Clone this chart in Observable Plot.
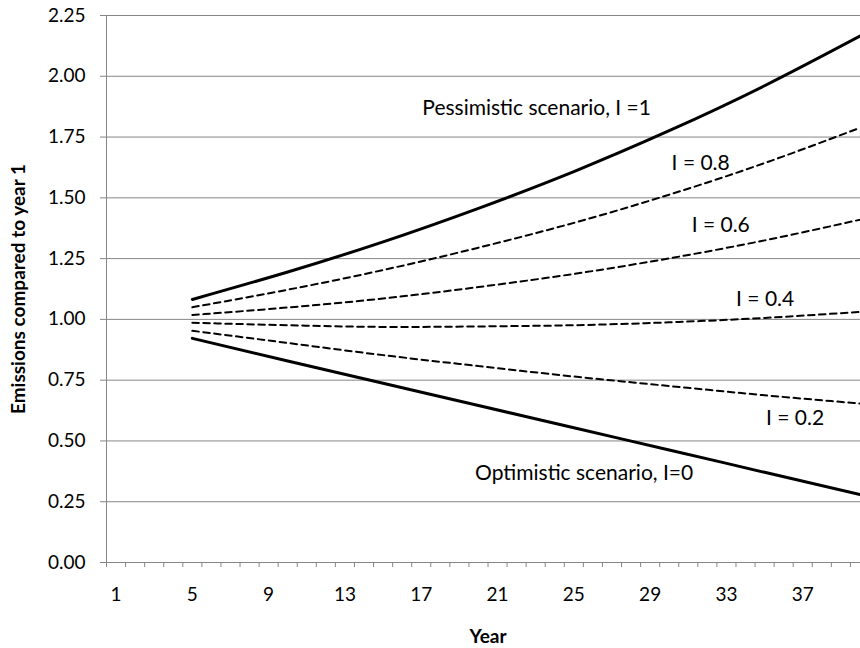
<!DOCTYPE html>
<html><head><meta charset="utf-8">
<script src="https://cdn.jsdelivr.net/npm/d3@7"></script>
<script src="https://cdn.jsdelivr.net/npm/@observablehq/plot@0.6"></script>
<style>
body{margin:0;background:#fff;}
#chart{width:860px;height:648px;overflow:hidden;}
#chart svg{overflow:hidden;}
</style>
</head><body><div id="chart"></div>
<script>
// ---- data ----
const years = [5, 10, 15, 20, 25, 30, 35, 40];
const pessimistic = [1.082, 1.195, 1.319, 1.457, 1.608, 1.776, 1.961, 2.165];
const i08 = [1.050, 1.122, 1.203, 1.295, 1.397, 1.513, 1.643, 1.788];
const i06 = [1.018, 1.049, 1.086, 1.133, 1.187, 1.251, 1.325, 1.410];
const i04 = [0.986, 0.976, 0.969, 0.971, 0.976, 0.988, 1.006, 1.031];
const i02 = [0.953, 0.903, 0.853, 0.808, 0.765, 0.726, 0.688, 0.654];
const optimistic = [0.922, 0.829, 0.737, 0.646, 0.554, 0.463, 0.371, 0.280];

const seriesNames = ["I=1", "I=0.8", "I=0.6", "I=0.4", "I=0.2", "I=0"];
const seriesValues = [pessimistic, i08, i06, i04, i02, optimistic];

const labelTexts = ["Pessimistic scenario, I =1", "I = 0.8", "I = 0.6", "I = 0.4", "I = 0.2", "Optimistic scenario, I=0"];
const labelYears = [23.05, 31.65, 32.7, 35.03, 36.6, 25.54];
const labelValues = [1.87, 1.641, 1.387, 1.083, 0.593, 0.366];

const yTicks = [0, 0.25, 0.5, 0.75, 1, 1.25, 1.5, 1.75, 2, 2.25];
const xLabelTicks = [1, 5, 9, 13, 17, 21, 25, 29, 33, 37];
const categoryCount = 40;

// ---- build tables ----
const rows = [];
seriesNames.forEach((name, si) => {
  years.forEach((yr, i) => rows.push({series: name, year: yr, value: seriesValues[si][i]}));
});
const solidNames = ["I=1", "I=0"];
const solid = rows.filter(d => solidNames.includes(d.series));
const dashed = rows.filter(d => !solidNames.includes(d.series));
const labels = labelTexts.map((t, i) => ({text: t, year: labelYears[i], value: labelValues[i]}));
const bandEdges = d3.range(0.5, categoryCount + 1, 1);

const GRAY = "#868686";
const FONT = "Lato, 'Open Sans', sans-serif";

const chart = Plot.plot({
  width: 860,
  height: 648,
  marginLeft: 106,
  marginTop: 15,
  marginBottom: 86,
  marginRight: 0,
  style: {fontFamily: FONT, fontSize: "19px", color: "#000", background: "#fff"},
  x: {domain: [0.5, categoryCount + 0.5], range: [106, 869]},
  y: {domain: [0, 2.25]},
  marks: [
    // gridlines
    Plot.ruleY(yTicks.slice(1), {x1: 0.5, x2: categoryCount + 0.5, stroke: GRAY, strokeWidth: 1}),
    // axis lines
    Plot.ruleX([0.5], {y1: 0, y2: 2.25, stroke: GRAY}),
    Plot.ruleY([0], {x1: 0.5, x2: categoryCount + 0.5, stroke: GRAY}),
    // y axis
    Plot.axisY({ticks: yTicks, tickFormat: d3.format(".2f"), tickSize: 6, tickPadding: 15, stroke: GRAY, label: null, fontSize: 19}),
    // x axis tick marks at category edges
    Plot.axisX({ticks: bandEdges, tickFormat: () => "", tickSize: 5, stroke: GRAY, label: null}),
    // x labels
    Plot.axisX({ticks: xLabelTicks, tickFormat: d => String(d), tickSize: 0, tickPadding: 25, label: null, fontSize: 19}),
    // lines
    Plot.line(dashed, {x: "year", y: "value", z: "series", stroke: "#000", strokeWidth: 2, strokeDasharray: "6.5,4.5", curve: "natural"}),
    Plot.line(solid, {x: "year", y: "value", z: "series", stroke: "#000", strokeWidth: 3, curve: "natural"}),
    // labels
    Plot.text(labels, {x: "year", y: "value", text: "text", fill: "#000", fontSize: 21, textAnchor: "middle"}),
    // axis titles
    Plot.text(["Year"], {x: [20.5], frameAnchor: "bottom", lineAnchor: "middle", textAnchor: "middle", dy: 74, fontWeight: "bold", fontSize: 19, fill: "#000"}),
    Plot.text(["Emissions compared to year 1"], {y: [1.125], frameAnchor: "left", textAnchor: "middle", lineAnchor: "middle", dx: -88, rotate: -90, fontWeight: "bold", fontSize: 19, fill: "#000"})
  ]
});
document.getElementById("chart").appendChild(chart);
</script>
</body></html>
